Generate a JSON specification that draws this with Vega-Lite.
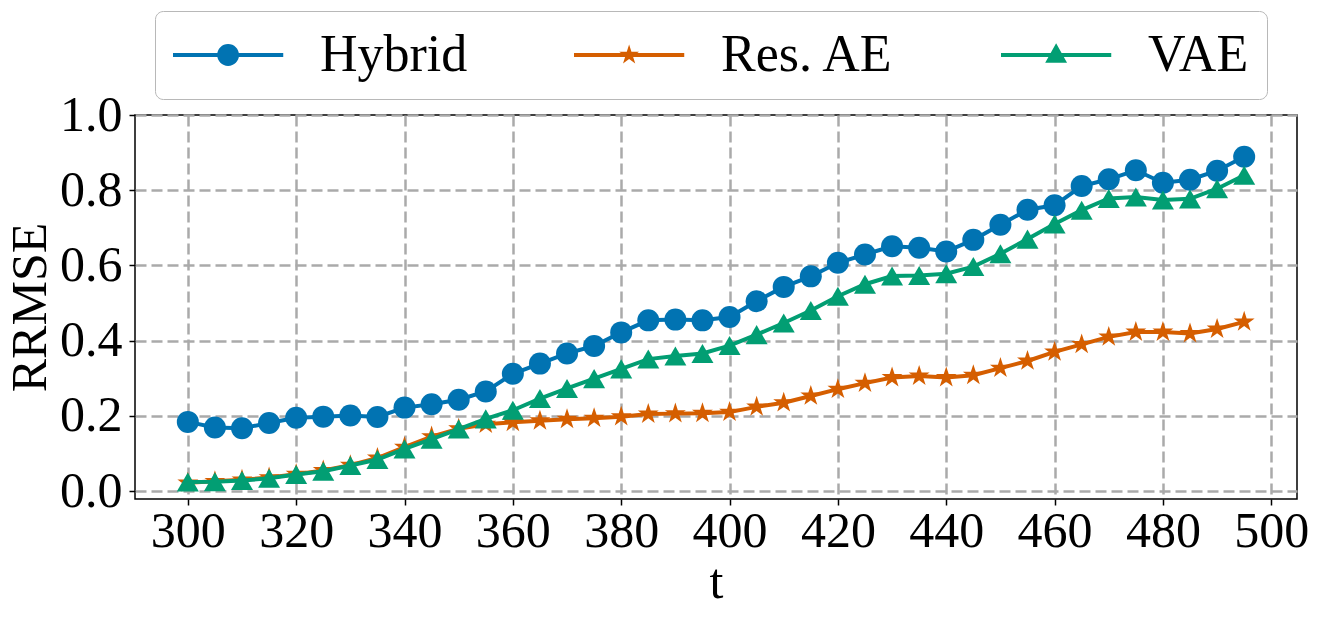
{
  "$schema": "https://vega.github.io/schema/vega-lite/v6.json",
  "width": 1162,
  "height": 384,
  "autosize": "none",
  "padding": {"left": 135, "top": 115, "right": 20, "bottom": 119},
  "background": "white",
  "config": {
    "font": "Liberation Serif",
    "view": {"stroke": "black", "strokeWidth": 1.5},
    "axis": {
      "grid": true,
      "gridColor": "#aaaaaa",
      "gridDash": [11, 5],
      "gridWidth": 2.5,
      "domain": false,
      "tickColor": "black",
      "tickWidth": 1.5,
      "tickSize": 6,
      "labelFont": "Liberation Serif",
      "labelFontSize": 50,
      "labelColor": "black",
      "titleFont": "Liberation Serif",
      "titleFontSize": 50,
      "titleFontWeight": "normal",
      "titleColor": "black"
    }
  },
  "data": {
    "values": [
      {"t": 300, "model": "Hybrid", "v": 0.184}, {"t": 305, "model": "Hybrid", "v": 0.169},
      {"t": 310, "model": "Hybrid", "v": 0.167}, {"t": 315, "model": "Hybrid", "v": 0.181},
      {"t": 320, "model": "Hybrid", "v": 0.195}, {"t": 325, "model": "Hybrid", "v": 0.198},
      {"t": 330, "model": "Hybrid", "v": 0.201}, {"t": 335, "model": "Hybrid", "v": 0.197},
      {"t": 340, "model": "Hybrid", "v": 0.222}, {"t": 345, "model": "Hybrid", "v": 0.231},
      {"t": 350, "model": "Hybrid", "v": 0.243}, {"t": 355, "model": "Hybrid", "v": 0.265},
      {"t": 360, "model": "Hybrid", "v": 0.312}, {"t": 365, "model": "Hybrid", "v": 0.339},
      {"t": 370, "model": "Hybrid", "v": 0.366}, {"t": 375, "model": "Hybrid", "v": 0.386},
      {"t": 380, "model": "Hybrid", "v": 0.422}, {"t": 385, "model": "Hybrid", "v": 0.454},
      {"t": 390, "model": "Hybrid", "v": 0.456}, {"t": 395, "model": "Hybrid", "v": 0.454},
      {"t": 400, "model": "Hybrid", "v": 0.463}, {"t": 405, "model": "Hybrid", "v": 0.505},
      {"t": 410, "model": "Hybrid", "v": 0.543}, {"t": 415, "model": "Hybrid", "v": 0.571},
      {"t": 420, "model": "Hybrid", "v": 0.607}, {"t": 425, "model": "Hybrid", "v": 0.629},
      {"t": 430, "model": "Hybrid", "v": 0.651}, {"t": 435, "model": "Hybrid", "v": 0.647},
      {"t": 440, "model": "Hybrid", "v": 0.637}, {"t": 445, "model": "Hybrid", "v": 0.668},
      {"t": 450, "model": "Hybrid", "v": 0.708}, {"t": 455, "model": "Hybrid", "v": 0.748},
      {"t": 460, "model": "Hybrid", "v": 0.760}, {"t": 465, "model": "Hybrid", "v": 0.811},
      {"t": 470, "model": "Hybrid", "v": 0.829}, {"t": 475, "model": "Hybrid", "v": 0.853},
      {"t": 480, "model": "Hybrid", "v": 0.820}, {"t": 485, "model": "Hybrid", "v": 0.828},
      {"t": 490, "model": "Hybrid", "v": 0.852}, {"t": 495, "model": "Hybrid", "v": 0.889},

      {"t": 300, "model": "Res. AE", "v": 0.022}, {"t": 305, "model": "Res. AE", "v": 0.026},
      {"t": 310, "model": "Res. AE", "v": 0.030}, {"t": 315, "model": "Res. AE", "v": 0.036},
      {"t": 320, "model": "Res. AE", "v": 0.045}, {"t": 325, "model": "Res. AE", "v": 0.055},
      {"t": 330, "model": "Res. AE", "v": 0.069}, {"t": 335, "model": "Res. AE", "v": 0.088},
      {"t": 340, "model": "Res. AE", "v": 0.117}, {"t": 345, "model": "Res. AE", "v": 0.145},
      {"t": 350, "model": "Res. AE", "v": 0.166}, {"t": 355, "model": "Res. AE", "v": 0.178},
      {"t": 360, "model": "Res. AE", "v": 0.183}, {"t": 365, "model": "Res. AE", "v": 0.187},
      {"t": 370, "model": "Res. AE", "v": 0.191}, {"t": 375, "model": "Res. AE", "v": 0.194},
      {"t": 380, "model": "Res. AE", "v": 0.198}, {"t": 385, "model": "Res. AE", "v": 0.205},
      {"t": 390, "model": "Res. AE", "v": 0.206}, {"t": 395, "model": "Res. AE", "v": 0.207},
      {"t": 400, "model": "Res. AE", "v": 0.210}, {"t": 405, "model": "Res. AE", "v": 0.224},
      {"t": 410, "model": "Res. AE", "v": 0.235}, {"t": 415, "model": "Res. AE", "v": 0.253},
      {"t": 420, "model": "Res. AE", "v": 0.271}, {"t": 425, "model": "Res. AE", "v": 0.287},
      {"t": 430, "model": "Res. AE", "v": 0.302}, {"t": 435, "model": "Res. AE", "v": 0.306},
      {"t": 440, "model": "Res. AE", "v": 0.302}, {"t": 445, "model": "Res. AE", "v": 0.308},
      {"t": 450, "model": "Res. AE", "v": 0.327}, {"t": 455, "model": "Res. AE", "v": 0.346},
      {"t": 460, "model": "Res. AE", "v": 0.370}, {"t": 465, "model": "Res. AE", "v": 0.390},
      {"t": 470, "model": "Res. AE", "v": 0.410}, {"t": 475, "model": "Res. AE", "v": 0.423},
      {"t": 480, "model": "Res. AE", "v": 0.423}, {"t": 485, "model": "Res. AE", "v": 0.419},
      {"t": 490, "model": "Res. AE", "v": 0.431}, {"t": 495, "model": "Res. AE", "v": 0.450},

      {"t": 300, "model": "VAE", "v": 0.024}, {"t": 305, "model": "VAE", "v": 0.025},
      {"t": 310, "model": "VAE", "v": 0.028}, {"t": 315, "model": "VAE", "v": 0.034},
      {"t": 320, "model": "VAE", "v": 0.044}, {"t": 325, "model": "VAE", "v": 0.053},
      {"t": 330, "model": "VAE", "v": 0.068}, {"t": 335, "model": "VAE", "v": 0.084},
      {"t": 340, "model": "VAE", "v": 0.112}, {"t": 345, "model": "VAE", "v": 0.138},
      {"t": 350, "model": "VAE", "v": 0.165}, {"t": 355, "model": "VAE", "v": 0.192},
      {"t": 360, "model": "VAE", "v": 0.215}, {"t": 365, "model": "VAE", "v": 0.246},
      {"t": 370, "model": "VAE", "v": 0.273}, {"t": 375, "model": "VAE", "v": 0.299},
      {"t": 380, "model": "VAE", "v": 0.325}, {"t": 385, "model": "VAE", "v": 0.351},
      {"t": 390, "model": "VAE", "v": 0.359}, {"t": 395, "model": "VAE", "v": 0.366},
      {"t": 400, "model": "VAE", "v": 0.387}, {"t": 405, "model": "VAE", "v": 0.416},
      {"t": 410, "model": "VAE", "v": 0.447}, {"t": 415, "model": "VAE", "v": 0.480},
      {"t": 420, "model": "VAE", "v": 0.518}, {"t": 425, "model": "VAE", "v": 0.550},
      {"t": 430, "model": "VAE", "v": 0.572}, {"t": 435, "model": "VAE", "v": 0.573},
      {"t": 440, "model": "VAE", "v": 0.578}, {"t": 445, "model": "VAE", "v": 0.597},
      {"t": 450, "model": "VAE", "v": 0.631}, {"t": 455, "model": "VAE", "v": 0.670},
      {"t": 460, "model": "VAE", "v": 0.710}, {"t": 465, "model": "VAE", "v": 0.747},
      {"t": 470, "model": "VAE", "v": 0.778}, {"t": 475, "model": "VAE", "v": 0.782},
      {"t": 480, "model": "VAE", "v": 0.774}, {"t": 485, "model": "VAE", "v": 0.777},
      {"t": 490, "model": "VAE", "v": 0.804}, {"t": 495, "model": "VAE", "v": 0.840}
    ]
  },
  "encoding": {
    "x": {
      "field": "t", "type": "quantitative",
      "scale": {"domain": [290.25, 504.75], "nice": false, "zero": false},
      "axis": {
        "values": [300, 320, 340, 360, 380, 400, 420, 440, 460, 480, 500],
        "labelBaseline": "alphabetic", "labelPadding": 41,
        "title": "t", "titleY": 98, "titleBaseline": "alphabetic"
      }
    },
    "y": {
      "field": "v", "type": "quantitative",
      "scale": {"domain": [-0.021, 1.0], "nice": false, "zero": false},
      "axis": {
        "values": [0, 0.2, 0.4, 0.6, 0.8, 1.0], "format": ".1f",
        "labelPadding": 7, "labelBaseline": "middle",
        "title": "RRMSE", "titleX": -90, "titleY": 192, "titleAngle": -90,
        "titleAlign": "center", "titleBaseline": "alphabetic"
      }
    },
    "color": {
      "field": "model", "type": "nominal",
      "scale": {"domain": ["Hybrid", "Res. AE", "VAE"], "range": ["#0173B2", "#D55E00", "#029E73"]},
      "legend": {
        "orient": "none", "direction": "horizontal",
        "legendX": 20, "legendY": -104,
        "title": null,
        "padding": 18, "fillColor": "white", "strokeColor": "#b8b8b8", "cornerRadius": 8,
        "symbolSize": 2704, "labelOffset": 95, "columnPadding": 106,
        "labelFont": "Liberation Serif", "labelFontSize": 52, "labelColor": "black",
        "labelLimit": 400,
        "encode": {
          "symbols": {
            "update": {
              "shape": {"signal": "datum.value === 'Hybrid' ? 'M-1,-0.077H3.24V0.077H-1Z M1.54,0A0.42,0.42,0,1,1,0.70,0A0.42,0.42,0,1,1,1.54,0Z' : datum.value === 'Res. AE' ? 'M-1,-0.077H3.24V0.077H-1Z M1.12,-0.4L1.21,-0.124L1.5,-0.124L1.266,0.047L1.355,0.324L1.12,0.153L0.885,0.324L0.974,0.047L0.74,-0.124L1.03,-0.124Z' : 'M-1,-0.077H3.24V0.077H-1Z M1.12,-0.45L1.54,0.3L0.70,0.3Z'"},
              "fill": {"scale": "color", "field": "value"},
              "fillOpacity": {"value": 1},
              "opacity": {"value": 1},
              "strokeWidth": {"value": 0}
            }
          }
        }
      }
    }
  },
  "layer": [
    {"transform": [{"filter": "datum.model === 'Hybrid'"}], "mark": {"type": "line", "strokeWidth": 4}},
    {"transform": [{"filter": "datum.model === 'Hybrid'"}], "mark": {"type": "point", "filled": true, "size": 484, "opacity": 1, "strokeWidth": 0, "shape": "circle"}},
    {"transform": [{"filter": "datum.model === 'Res. AE'"}], "mark": {"type": "line", "strokeWidth": 4}},
    {"transform": [{"filter": "datum.model === 'Res. AE'"}], "mark": {"type": "point", "filled": true, "size": 484, "opacity": 1, "strokeWidth": 0, "shape": "M0,-1L0.2245,-0.309L0.951,-0.309L0.3633,0.118L0.588,0.809L0,0.382L-0.588,0.809L-0.3633,0.118L-0.951,-0.309L-0.2245,-0.309Z"}},
    {"transform": [{"filter": "datum.model === 'VAE'"}], "mark": {"type": "line", "strokeWidth": 4}},
    {"transform": [{"filter": "datum.model === 'VAE'"}], "mark": {"type": "point", "filled": true, "size": 484, "opacity": 1, "strokeWidth": 0, "shape": "triangle-up"}}
  ]
}
